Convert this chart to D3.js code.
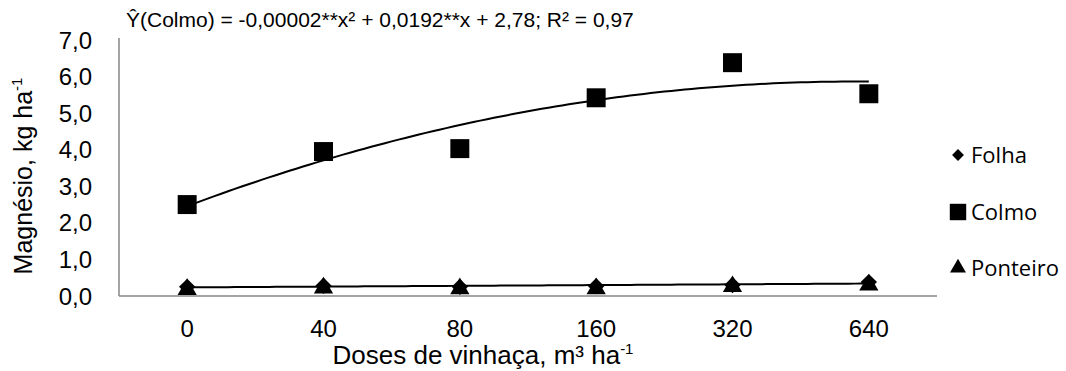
<!DOCTYPE html>
<html>
<head>
<meta charset="utf-8">
<script src="https://cdn.jsdelivr.net/npm/d3@7"></script>
<style>
  body { margin: 0; background: #fff; }
  svg { display: block; }
  svg text { font-family: "Liberation Sans", Arial, sans-serif; }
</style>
</head>
<body>
<script>
// doses de vinhaça (categorias do eixo x)
var doses = ["0", "40", "80", "160", "320", "640"];
// valores
var folha = [0.25, 0.28, 0.25, 0.27, 0.30, 0.38];
var colmo = [2.50, 3.95, 4.03, 5.42, 6.38, 5.53];
var ponteiro = [0.18, 0.22, 0.20, 0.20, 0.26, 0.30];
var yTicks = [0, 1, 2, 3, 4, 5, 6, 7];
var seriesNames = ["Folha", "Colmo", "Ponteiro"];

var w = 1066, h = 371;
var pLeft = 119, pRight = 937, pTop = 40, pBottom = 296;

var svg = d3.select("body").append("svg").attr("width", w).attr("height", h);

var x = d3.scalePoint().domain(doses).range([pLeft, pRight]).padding(0.5);
var y = d3.scaleLinear().domain([0, 7]).range([pBottom, pTop]);

// least squares polynomial fit on category index (1..n), like excel trendline
function polyfit(vals, deg) {
  var n = deg + 1;
  var A = [], b = [];
  for (var i = 0; i < n; i++) {
    A.push(new Array(n).fill(0)); b.push(0);
  }
  vals.forEach(function (v, k) {
    var xi = k + 1;
    for (var i = 0; i < n; i++) {
      for (var j = 0; j < n; j++) A[i][j] += Math.pow(xi, i + j);
      b[i] += v * Math.pow(xi, i);
    }
  });
  // gauss
  for (var i = 0; i < n; i++) {
    for (var r = i + 1; r < n; r++) {
      var f = A[r][i] / A[i][i];
      for (var c = i; c < n; c++) A[r][c] -= f * A[i][c];
      b[r] -= f * b[i];
    }
  }
  var coef = new Array(n).fill(0);
  for (var i = n - 1; i >= 0; i--) {
    var s = b[i];
    for (var c = i + 1; c < n; c++) s -= A[i][c] * coef[c];
    coef[i] = s / A[i][i];
  }
  return function (t) {
    var s = 0;
    for (var i = 0; i < n; i++) s += coef[i] * Math.pow(t, i);
    return s;
  };
}

var tx = d3.scaleLinear().domain([1, doses.length]).range([x(doses[0]), x(doses[doses.length - 1])]);
var line = d3.line().x(function (d) { return tx(d[0]); }).y(function (d) { return y(d[1]); });

function trend(vals, deg) {
  var f = polyfit(vals, deg);
  var pts = d3.range(1, doses.length + 0.001, 0.05).map(function (t) { return [t, f(t)]; });
  svg.append("path").attr("d", line(pts))
    .attr("fill", "none").attr("stroke", "#000").attr("stroke-width", 2);
}

// axes
svg.append("line").attr("x1", pLeft).attr("x2", pLeft).attr("y1", pTop - 2).attr("y2", pBottom)
  .attr("stroke", "#868686").attr("stroke-width", 1.5);
svg.append("line").attr("x1", pLeft).attr("x2", pRight).attr("y1", pBottom).attr("y2", pBottom)
  .attr("stroke", "#868686").attr("stroke-width", 1.5);

svg.selectAll("text.ytick").data(yTicks).enter().append("text")
  .attr("class", "ytick")
  .attr("x", 92).attr("y", function (d) { return y(d); })
  .attr("dy", "0.36em").attr("text-anchor", "end")
  .attr("font-size", 24).attr("fill", "#000")
  .text(function (d) { return d3.format(".1f")(d).replace(".", ","); });

svg.selectAll("text.xtick").data(doses).enter().append("text")
  .attr("class", "xtick")
  .attr("x", function (d) { return x(d); }).attr("y", 337)
  .attr("text-anchor", "middle").attr("font-size", 24).attr("fill", "#000")
  .text(function (d) { return d; });

// trendlines
trend(colmo, 2);
trend(folha, 1);

// markers
var sym = {
  Folha: d3.symbol().type(d3.symbolDiamond2).size(170),
  Colmo: d3.symbol().type(d3.symbolSquare).size(360),
  Ponteiro: d3.symbol().type(d3.symbolTriangle).size(160)
};
var data = { Folha: folha, Colmo: colmo, Ponteiro: ponteiro };

seriesNames.forEach(function (s) {
  svg.selectAll("path.m-" + s).data(data[s]).enter().append("path")
    .attr("class", "m-" + s)
    .attr("d", sym[s])
    .attr("transform", function (d, i) {
      return "translate(" + x(doses[i]) + "," + y(d) + ")";
    })
    .attr("fill", "#000");
});

// legend
var legY = [155, 212, 268];
var legSym = {
  Folha: d3.symbol().type(d3.symbolDiamond2).size(90),
  Colmo: d3.symbol().type(d3.symbolSquare).size(270),
  Ponteiro: d3.symbol().type(d3.symbolTriangle).size(110)
};
seriesNames.forEach(function (s, i) {
  svg.append("path").attr("d", legSym[s])
    .attr("transform", "translate(958," + legY[i] + ")").attr("fill", "#000");
  svg.append("text").attr("x", 971).attr("y", legY[i]).attr("dy", "0.36em")
    .style("font-family", "'Open Sans', sans-serif").attr("font-size", 22)
    .attr("fill", "#000").text(s);
});

// equation
svg.append("text").attr("x", 126).attr("y", 27).attr("font-size", 21).attr("fill", "#000")
  .text("Ŷ(Colmo) = -0,00002**x² + 0,0192**x + 2,78; R² = 0,97");

// y title
var yt = svg.append("text")
  .attr("transform", "translate(32,176) rotate(-90)")
  .attr("text-anchor", "middle").attr("font-size", 25).attr("fill", "#000");
yt.append("tspan").text("Magnésio, kg ha");
yt.append("tspan").attr("font-size", 15).attr("dy", -10).text("-1");

// x title
var xt = svg.append("text").attr("x", 483).attr("y", 364)
  .attr("text-anchor", "middle").attr("font-size", 26).attr("fill", "#000");
xt.append("tspan").text("Doses de vinhaça, m³ ha");
xt.append("tspan").attr("font-size", 15).attr("dy", -10).text("-1");
</script>
</body>
</html>
